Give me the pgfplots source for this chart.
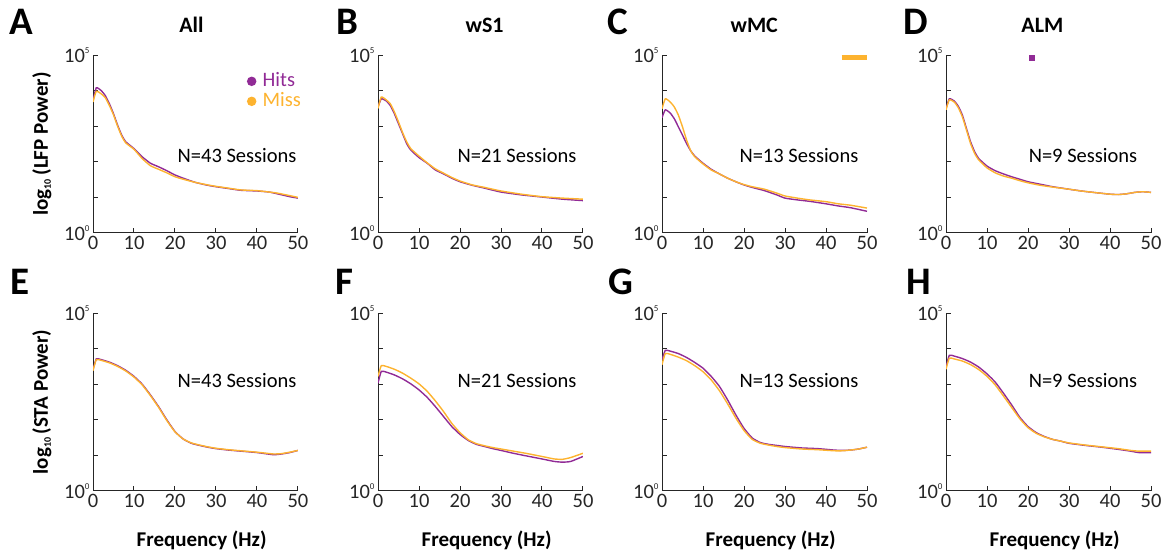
\documentclass[border=0pt]{standalone}
\usepackage{fontspec}
\setmainfont{Carlito}
\usepackage{pgfplots}
\usepackage{pgfplotstable}
\pgfplotsset{compat=1.18}
\definecolor{hitc}{RGB}{145,43,150}
\definecolor{missc}{RGB}{253,179,47}
\definecolor{axc}{RGB}{38,38,38}

\pgfplotstableread{
f hit miss
0 3.72 3.68
0.8 4.08 3.98
2 4.00 3.91
3 3.86 3.80
4 3.63 3.58
5 3.35 3.32
6 3.03 3.00
7 2.75 2.72
8 2.56 2.53
10 2.37 2.35
12 2.14 2.09
14 1.96 1.89
16 1.86 1.79
18 1.75 1.69
20 1.63 1.58
22 1.54 1.51
25 1.42 1.42
28 1.34 1.35
30 1.30 1.31
33 1.25 1.26
36 1.20 1.21
40 1.18 1.19
43 1.15 1.15
45 1.10 1.12
48 1.02 1.05
50 0.98 1.00
}\dataA
\pgfplotstableread{
f hit miss
0 3.54 3.50
0.8 3.77 3.82
2 3.71 3.74
3 3.58 3.63
4 3.35 3.40
5 3.07 3.12
6 2.79 2.82
7 2.51 2.56
8 2.33 2.37
10 2.12 2.16
12 1.96 1.97
14 1.77 1.80
16 1.66 1.68
18 1.54 1.56
20 1.44 1.46
23 1.34 1.35
26 1.26 1.28
30 1.15 1.18
35 1.07 1.09
40 1.01 1.02
45 0.95 0.98
50 0.91 0.95
}\dataB
\pgfplotstableread{
f hit miss
0 3.24 3.49
0.8 3.46 3.77
2 3.37 3.68
3 3.21 3.54
4 2.98 3.31
5 2.75 2.98
6 2.51 2.61
7 2.31 2.31
8 2.16 2.14
10 1.96 1.94
12 1.79 1.77
14 1.66 1.66
16 1.54 1.54
18 1.44 1.44
20 1.35 1.36
22 1.28 1.30
25 1.19 1.23
28 1.07 1.12
30 0.98 1.04
33 0.93 0.98
36 0.89 0.93
40 0.82 0.88
43 0.76 0.82
46 0.71 0.78
50 0.61 0.70
}\dataC
\pgfplotstableread{
f hit miss
0 3.49 3.46
0.8 3.77 3.74
2 3.71 3.68
3 3.56 3.52
4 3.31 3.26
5 2.93 2.89
6 2.56 2.51
7 2.28 2.23
8 2.09 2.05
10 1.88 1.83
12 1.75 1.69
14 1.66 1.60
16 1.58 1.54
18 1.51 1.47
20 1.44 1.41
23 1.37 1.34
26 1.30 1.29
30 1.23 1.23
33 1.18 1.18
36 1.14 1.14
40 1.09 1.09
42 1.08 1.08
44 1.10 1.10
46 1.14 1.14
48 1.16 1.16
50 1.14 1.14
}\dataD
\pgfplotstableread{
f hit miss
0 3.41 3.38
0.8 3.71 3.69
2 3.69 3.67
4 3.62 3.60
6 3.52 3.50
8 3.39 3.37
10 3.22 3.20
12 3.00 2.98
14 2.70 2.68
16 2.37 2.35
18 2.00 1.98
20 1.67 1.66
22 1.46 1.46
24 1.34 1.35
26 1.28 1.29
28 1.23 1.24
30 1.19 1.20
33 1.15 1.16
36 1.12 1.13
40 1.08 1.09
44 1.02 1.04
46 1.04 1.05
48 1.08 1.09
50 1.14 1.14
}\dataE
\pgfplotstableread{
f hit miss
0 3.03 3.22
0.8 3.36 3.52
2 3.34 3.50
4 3.26 3.42
6 3.15 3.31
8 3.01 3.17
10 2.84 3.01
12 2.63 2.80
14 2.37 2.53
16 2.09 2.23
18 1.81 1.90
20 1.59 1.64
22 1.42 1.44
24 1.31 1.33
26 1.25 1.27
28 1.19 1.22
30 1.14 1.18
33 1.06 1.12
36 0.99 1.06
40 0.90 0.97
43 0.83 0.90
45 0.81 0.89
47 0.83 0.94
50 0.97 1.06
}\dataF
\pgfplotstableread{
f hit miss
0 3.69 3.55
0.8 3.95 3.86
2 3.93 3.84
4 3.86 3.76
6 3.75 3.66
8 3.61 3.52
10 3.45 3.35
12 3.22 3.12
14 2.94 2.82
16 2.56 2.45
18 2.14 2.05
20 1.76 1.70
22 1.49 1.45
24 1.36 1.34
26 1.31 1.29
28 1.28 1.25
30 1.25 1.22
34 1.21 1.18
38 1.19 1.16
42 1.15 1.13
44 1.14 1.13
46 1.15 1.15
48 1.18 1.18
50 1.23 1.23
}\dataG
\pgfplotstableread{
f hit miss
0 3.48 3.42
0.8 3.81 3.73
2 3.79 3.71
4 3.72 3.65
6 3.62 3.55
8 3.48 3.41
10 3.29 3.22
12 3.06 2.98
14 2.75 2.67
16 2.42 2.35
18 2.07 2.03
20 1.81 1.78
22 1.64 1.62
24 1.53 1.52
26 1.45 1.45
28 1.40 1.40
30 1.34 1.35
34 1.28 1.29
38 1.23 1.24
42 1.17 1.19
45 1.12 1.14
47 1.08 1.12
50 1.08 1.12
}\dataH

\newcommand{\tenp}[1]{10\raisebox{9pt}{\fontsize{9}{9}\selectfont #1}}
\pgfplotsset{
  panel/.style={
    scale only axis, width=205pt, height=178pt,
    xmin=0, xmax=50, ymin=0, ymax=5,
    axis x line*=bottom, axis y line*=left,
    xtick={0,10,...,50}, ytick={0,1,2,3,4,5},
    yticklabels={\tenp{0},,,,,\tenp{5}},
    tick align=inside, major tick length=5pt,
    axis line style={axc, line width=1pt},
    tick style={axc, line width=1pt},
    tick label style={font=\fontsize{20.5}{24}\selectfont, text=axc},
    /pgf/number format/assume math mode=true,
    title style={font=\fontsize{22}{26}\selectfont\bfseries, at={(axis description cs:0.48,1.135)}, anchor=center},
    xlabel style={font=\fontsize{21}{25}\selectfont\bfseries, at={(axis description cs:0.53,-0.275)}, anchor=center},
    ylabel style={font=\fontsize{21}{25}\selectfont\bfseries, at={(axis description cs:-0.249,0.5)}, anchor=center},
  },
  hitl/.style={hitc, line width=1.4pt, smooth, tension=0.3},
  missl/.style={missc, line width=1.4pt, smooth, tension=0.3},
}
\newcommand{\ntext}[3]{\node[anchor=east, font=\fontsize{20.5}{24}\selectfont, text=black] at (axis description cs:#1,#2) {#3};}
\newcommand{\yl}[1]{log\raisebox{-3pt}{\fontsize{10}{10}\selectfont 10}\,(#1 Power)}
\newcommand{\plet}[3]{\node[font=\fontsize{39}{39}\selectfont\bfseries, anchor=center] at (#1pt,#2pt) {#3};}

\begin{document}
\begin{tikzpicture}[x=1pt,y=1pt]
\useasboundingbox (0,0) rectangle (1171,552);
% letters
\plet{21}{530}{A}
\plet{347}{530}{B}
\plet{618}{530}{C}
\plet{916}{530}{D}
\plet{20}{270}{E}
\plet{344}{270}{F}
\plet{621}{270}{G}
\plet{919}{270}{H}

% A
\begin{axis}[panel, at={(93pt,319pt)}, anchor=south west, title={All}, ylabel={\yl{LFP}},
  legend style={at={(axis description cs:1.03,0.915)}, anchor=north east, draw=none, fill=none,
    font=\fontsize{20.5}{20}\selectfont, row sep=2pt,
    nodes={inner xsep=0pt, inner ysep=0pt, text height=14pt, text depth=4pt}},
  legend cell align=left,
  legend image code/.code={\fill[#1] (0pt,0pt) circle (4pt); \path[draw=none,fill=none] (4pt,0pt) rectangle (11pt,0.1pt);}]
\addplot[hitl] table[x=f,y=hit]{\dataA};
\addlegendentry{\textcolor{hitc}{Hits}}
\addplot[missl] table[x=f,y=miss]{\dataA};
\addlegendentry{\textcolor{missc}{Miss}}
\ntext{1.01}{0.438}{N=43 Sessions}
\end{axis}

% B
\begin{axis}[panel, at={(378pt,319pt)}, anchor=south west, title={wS1}, title style={at={(axis description cs:0.52,1.135)}}]
\addplot[hitl] table[x=f,y=hit]{\dataB};
\addplot[missl] table[x=f,y=miss]{\dataB};
\ntext{0.985}{0.438}{N=21 Sessions}
\end{axis}

% C
\begin{axis}[panel, at={(662pt,319pt)}, anchor=south west, title={wMC}, title style={at={(axis description cs:0.45,1.135)}}]
\addplot[hitl] table[x=f,y=hit]{\dataC};
\addplot[missl] table[x=f,y=miss]{\dataC};
\addplot[missc, line width=5pt] coordinates {(43.8,4.92) (49.9,4.92)};
\ntext{0.975}{0.438}{N=13 Sessions}
\end{axis}

% D
\begin{axis}[panel, at={(946pt,319pt)}, anchor=south west, title={ALM}, title style={at={(axis description cs:0.47,1.135)}}]
\addplot[hitl] table[x=f,y=hit]{\dataD};
\addplot[missl] table[x=f,y=miss]{\dataD};
\addplot[hitc, line width=6pt] coordinates {(20.3,4.92) (21.7,4.92)};
\ntext{0.95}{0.438}{N=9 Sessions}
\end{axis}

% E
\begin{axis}[panel, at={(93pt,61pt)}, anchor=south west, ylabel={\yl{STA}}, xlabel={Frequency (Hz)}]
\addplot[hitl] table[x=f,y=hit]{\dataE};
\addplot[missl] table[x=f,y=miss]{\dataE};
\ntext{1.01}{0.618}{N=43 Sessions}
\end{axis}

% F
\begin{axis}[panel, at={(378pt,61pt)}, anchor=south west, xlabel={Frequency (Hz)}]
\addplot[hitl] table[x=f,y=hit]{\dataF};
\addplot[missl] table[x=f,y=miss]{\dataF};
\ntext{0.985}{0.618}{N=21 Sessions}
\end{axis}

% G
\begin{axis}[panel, at={(662pt,61pt)}, anchor=south west, xlabel={Frequency (Hz)}]
\addplot[hitl] table[x=f,y=hit]{\dataG};
\addplot[missl] table[x=f,y=miss]{\dataG};
\ntext{0.975}{0.618}{N=13 Sessions}
\end{axis}

% H
\begin{axis}[panel, at={(946pt,61pt)}, anchor=south west, xlabel={Frequency (Hz)}]
\addplot[hitl] table[x=f,y=hit]{\dataH};
\addplot[missl] table[x=f,y=miss]{\dataH};
\ntext{0.95}{0.618}{N=9 Sessions}
\end{axis}
\end{tikzpicture}
\end{document}
